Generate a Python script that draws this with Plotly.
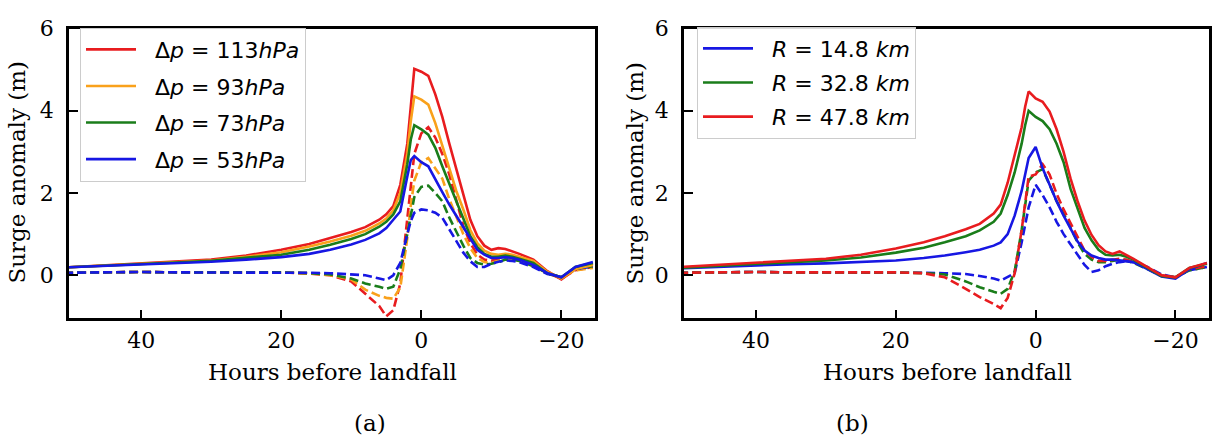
import plotly.graph_objects as go

# ---------------- data ----------------
hours = [51, 45, 40, 35, 30, 25, 20, 16, 13, 10, 8, 6, 5, 4, 3, 2, 1.5, 1, 0,
         -1, -2, -3, -4, -5, -6, -7, -8, -9, -10, -11, -12, -13, -14, -16, -18,
         -20, -22, -24.5]

# panel (a): pressure deficit experiments (solid = total, dashed = second component)
dp_labels = ["Δ<i>p</i> = 113<i>hPa</i>", "Δ<i>p</i> = 93<i>hPa</i>",
             "Δ<i>p</i> = 73<i>hPa</i>", "Δ<i>p</i> = 53<i>hPa</i>"]
dp113_solid = [0.19, 0.24, 0.29, 0.33, 0.38, 0.48, 0.62, 0.76, 0.90, 1.05, 1.17, 1.35, 1.48, 1.68, 2.20, 3.20, 4.10, 5.02, 4.95,
               4.85, 4.40, 3.85, 3.20, 2.60, 1.95, 1.35, 0.95, 0.72, 0.62, 0.66, 0.64, 0.58, 0.52, 0.38, 0.10,
               -0.10, 0.16, 0.28]
dp93_solid = [0.19, 0.24, 0.28, 0.32, 0.36, 0.45, 0.56, 0.70, 0.82, 0.96, 1.08, 1.26, 1.38, 1.58, 2.00, 2.95, 3.75, 4.35, 4.27,
              4.15, 3.70, 3.15, 2.60, 2.05, 1.60, 1.10, 0.78, 0.60, 0.52, 0.50, 0.52, 0.50, 0.45, 0.35, 0.08,
              -0.08, 0.15, 0.25]
dp73_solid = [0.19, 0.23, 0.27, 0.31, 0.35, 0.42, 0.50, 0.62, 0.74, 0.88, 1.00, 1.18, 1.30, 1.48, 1.80, 2.70, 3.30, 3.65, 3.55,
              3.42, 3.10, 2.65, 2.20, 1.80, 1.38, 0.95, 0.68, 0.52, 0.45, 0.45, 0.48, 0.45, 0.40, 0.30, 0.05,
              -0.05, 0.20, 0.30]
dp53_solid = [0.19, 0.23, 0.26, 0.30, 0.33, 0.38, 0.44, 0.52, 0.62, 0.75, 0.86, 1.02, 1.15, 1.35, 1.55, 2.40, 2.80, 2.90, 2.75,
              2.65, 2.32, 2.02, 1.72, 1.45, 1.15, 0.88, 0.62, 0.50, 0.42, 0.42, 0.44, 0.42, 0.38, 0.25, 0.05,
              -0.05, 0.20, 0.32]
dp113_dash = [0.06, 0.08, 0.08, 0.07, 0.07, 0.07, 0.07, 0.04, 0.00, -0.15, -0.45, -0.75, -1.00, -0.85, -0.20, 1.40, 2.30, 2.95, 3.45,
              3.60, 3.35, 2.95, 2.45, 1.85, 1.20, 0.78, 0.50, 0.38, 0.35, 0.40, 0.45, 0.42, 0.38, 0.25, 0.05,
              -0.08, 0.12, 0.20]
dp93_dash = [0.06, 0.08, 0.08, 0.07, 0.07, 0.07, 0.07, 0.05, 0.00, -0.10, -0.35, -0.50, -0.55, -0.57, -0.30, 0.90, 1.70, 2.30, 2.75,
             2.85, 2.60, 2.35, 1.85, 1.40, 1.00, 0.66, 0.42, 0.32, 0.30, 0.35, 0.40, 0.40, 0.35, 0.22, 0.05,
             -0.05, 0.12, 0.18]
dp73_dash = [0.06, 0.08, 0.08, 0.07, 0.07, 0.07, 0.07, 0.05, 0.02, -0.08, -0.20, -0.28, -0.33, -0.28, 0.15, 1.00, 1.50, 1.90, 2.15,
             2.18, 2.00, 1.80, 1.40, 1.05, 0.72, 0.42, 0.30, 0.26, 0.28, 0.32, 0.38, 0.38, 0.35, 0.22, 0.05,
             -0.05, 0.15, 0.22]
dp53_dash = [0.06, 0.08, 0.08, 0.07, 0.07, 0.07, 0.07, 0.06, 0.05, 0.03, 0.00, -0.08, -0.12, 0.00, 0.30, 1.00, 1.32, 1.52, 1.60,
             1.58, 1.52, 1.40, 1.12, 0.84, 0.55, 0.34, 0.20, 0.20, 0.28, 0.33, 0.36, 0.35, 0.32, 0.20, 0.03,
             -0.05, 0.15, 0.22]

# panel (b): radius of maximum wind experiments
r_labels = ["<i>R</i> = 14.8 <i>km</i>", "<i>R</i> = 32.8 <i>km</i>", "<i>R</i> = 47.8 <i>km</i>"]
r14_solid = [0.17, 0.21, 0.24, 0.27, 0.29, 0.32, 0.36, 0.42, 0.48, 0.56, 0.62, 0.72, 0.80, 1.00, 1.45, 2.05, 2.45, 2.85, 3.12,
             2.60, 2.20, 1.80, 1.45, 1.12, 0.82, 0.60, 0.48, 0.42, 0.38, 0.38, 0.36, 0.35, 0.32, 0.15, -0.03,
             -0.08, 0.15, 0.30]
r32_solid = [0.18, 0.23, 0.28, 0.32, 0.36, 0.43, 0.55, 0.67, 0.80, 0.95, 1.09, 1.30, 1.50, 1.95, 2.50, 3.20, 3.65, 4.00, 3.85,
             3.75, 3.55, 3.20, 2.75, 2.10, 1.62, 1.15, 0.85, 0.62, 0.50, 0.48, 0.50, 0.45, 0.38, 0.18, -0.02,
             -0.05, 0.18, 0.28]
r47_solid = [0.20, 0.26, 0.31, 0.35, 0.40, 0.50, 0.65, 0.80, 0.95, 1.12, 1.25, 1.50, 1.72, 2.25, 2.90, 3.60, 4.10, 4.47, 4.30,
             4.22, 3.98, 3.55, 3.00, 2.35, 1.80, 1.33, 0.98, 0.73, 0.58, 0.52, 0.58, 0.50, 0.40, 0.20, 0.00,
             -0.05, 0.18, 0.30]
r14_dash = [0.06, 0.08, 0.08, 0.07, 0.07, 0.07, 0.07, 0.06, 0.05, 0.03, -0.02, -0.08, -0.13, -0.05, 0.05, 0.80, 1.20, 1.65, 2.20,
            1.95, 1.65, 1.30, 1.00, 0.75, 0.50, 0.25, 0.08, 0.12, 0.22, 0.28, 0.32, 0.34, 0.32, 0.20, 0.02,
            -0.05, 0.12, 0.20]
r32_dash = [0.06, 0.08, 0.08, 0.07, 0.07, 0.07, 0.07, 0.05, 0.02, -0.15, -0.29, -0.40, -0.45, -0.33, 0.10, 1.10, 1.75, 2.30, 2.50,
            2.58, 2.20, 1.80, 1.50, 1.15, 0.80, 0.52, 0.38, 0.32, 0.32, 0.35, 0.38, 0.35, 0.30, 0.15, -0.02,
            -0.05, 0.12, 0.20]
r47_dash = [0.06, 0.08, 0.08, 0.07, 0.07, 0.07, 0.07, 0.05, -0.05, -0.33, -0.53, -0.70, -0.80, -0.55, 0.05, 1.10, 1.80, 2.40, 2.45,
            2.70, 2.45, 1.98, 1.60, 1.27, 0.92, 0.60, 0.45, 0.35, 0.35, 0.38, 0.40, 0.38, 0.32, 0.18, 0.00,
            -0.05, 0.15, 0.22]

x_ticks = [40, 20, 0, -20]
y_ticks = [0, 2, 4, 6]

RED, ORANGE, GREEN, BLUE = "#e81c1f", "#f9a11b", "#1a7d1a", "#1717e3"

fig = go.Figure()

panel_a = [(dp113_solid, dp113_dash, RED, dp_labels[0]),
           (dp93_solid, dp93_dash, ORANGE, dp_labels[1]),
           (dp73_solid, dp73_dash, GREEN, dp_labels[2]),
           (dp53_solid, dp53_dash, BLUE, dp_labels[3])]
panel_b = [(r14_solid, r14_dash, BLUE, r_labels[0]),
           (r32_solid, r32_dash, GREEN, r_labels[1]),
           (r47_solid, r47_dash, RED, r_labels[2])]

LW = 2.6
DASH = "9px,4px"
PAD = "\u00a0\u00a0"

for i, (s, d, c, lab) in enumerate(panel_a):
    fig.add_trace(go.Scatter(x=hours, y=d, mode="lines", line=dict(color=c, width=LW, dash=DASH),
                             showlegend=False, xaxis="x", yaxis="y", hoverinfo="skip"))
for i, (s, d, c, lab) in enumerate(panel_a):
    fig.add_trace(go.Scatter(x=hours, y=s, mode="lines", line=dict(color=c, width=LW),
                             name=PAD + lab, legend="legend", legendgroup="a%d" % i,
                             xaxis="x", yaxis="y"))
for i, (s, d, c, lab) in enumerate(panel_b):
    fig.add_trace(go.Scatter(x=hours, y=d, mode="lines", line=dict(color=c, width=LW, dash=DASH),
                             showlegend=False, xaxis="x2", yaxis="y2", hoverinfo="skip"))
for i, (s, d, c, lab) in enumerate(panel_b):
    fig.add_trace(go.Scatter(x=hours, y=s, mode="lines", line=dict(color=c, width=LW),
                             name=PAD + lab, legend="legend2", legendgroup="b%d" % i,
                             xaxis="x2", yaxis="y2"))

W, H = 1215, 441
TICKFONT = dict(family="DejaVu Serif", size=22, color="black")
TITLEFONT = dict(family="DejaVu Serif", size=23, color="black")

def xax(dom, anchor):
    return dict(domain=dom, anchor=anchor, range=[50.3, -24.8], tickmode="array", tickvals=x_ticks,
                ticks="inside", ticklen=9, tickwidth=2, tickcolor="black",
                showline=True, mirror=True, linecolor="black", linewidth=2.5,
                showgrid=False, zeroline=False, tickfont=TICKFONT, ticklabelstandoff=0)

def yax(anchor):
    return dict(domain=[1 - 315 / H, 1 - 17 / H], anchor=anchor, range=[-1.05, 6], tickmode="array",
                tickvals=y_ticks, ticks="inside", ticklen=9, tickwidth=2, tickcolor="black",
                showline=True, mirror=True, linecolor="black", linewidth=2.5,
                showgrid=False, zeroline=False, tickfont=TICKFONT, ticklabelstandoff=8)

legend_style = dict(font=dict(family="DejaVu Sans", size=22, color="black"),
                    bgcolor="rgba(255,255,255,0.85)", bordercolor="#cccccc", borderwidth=1,
                    xanchor="left", yanchor="top", itemwidth=50, traceorder="grouped")

fig.update_layout(
    width=W, height=H, autosize=False,
    margin=dict(l=0, r=0, t=0, b=0),
    paper_bgcolor="white", plot_bgcolor="white",
    xaxis=xax([69 / W, 595 / W], "y"),
    yaxis=yax("x"),
    xaxis2=xax([684 / W, 1209 / W], "y2"),
    yaxis2=yax("x2"),
    legend=dict(x=80 / W, y=1 - 16 / H, tracegroupgap=5, **legend_style),
    legend2=dict(x=697 / W, y=1 - 15 / H, tracegroupgap=2.5, **legend_style),
    annotations=[
        dict(text="Surge anomaly (m)", x=17 / W, y=1 - 165 / H, xref="paper", yref="paper",
             textangle=-90, showarrow=False, font=TITLEFONT, xanchor="center", yanchor="middle"),
        dict(text="Surge anomaly (m)", x=635 / W, y=1 - 165 / H, xref="paper", yref="paper",
             textangle=-90, showarrow=False, font=TITLEFONT, xanchor="center", yanchor="middle"),
        dict(text="Hours before landfall", x=332 / W, y=1 - 370 / H, xref="paper", yref="paper",
             showarrow=False, font=TITLEFONT, xanchor="center", yanchor="middle"),
        dict(text="Hours before landfall", x=947 / W, y=1 - 370 / H, xref="paper", yref="paper",
             showarrow=False, font=TITLEFONT, xanchor="center", yanchor="middle"),
        dict(text="(a)", x=370 / W, y=1 - 423 / H, xref="paper", yref="paper",
             showarrow=False, font=TITLEFONT, xanchor="center", yanchor="middle"),
        dict(text="(b)", x=852 / W, y=1 - 423 / H, xref="paper", yref="paper",
             showarrow=False, font=TITLEFONT, xanchor="center", yanchor="middle"),
    ],
)

fig.write_html("out.html")
